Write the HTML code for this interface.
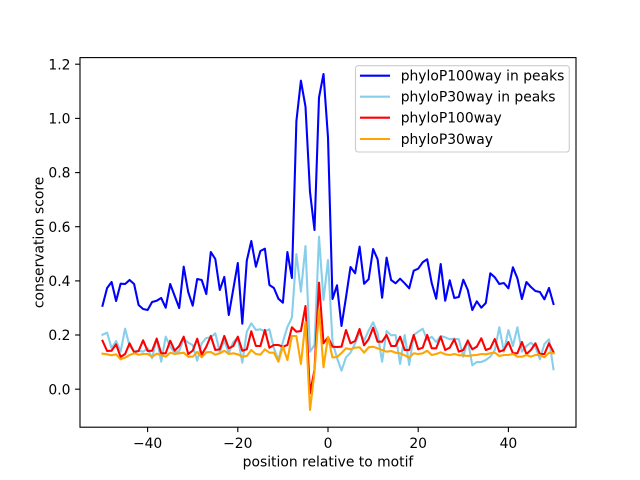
<!DOCTYPE html>
<html><head><meta charset="utf-8"><style>
html,body{margin:0;padding:0;background:#fff;}
svg{display:block;}
text{font-family:"DejaVu Sans","Liberation Sans",sans-serif;fill:#000;}
</style></head><body>
<svg width="640" height="480" viewBox="0 0 640 480" xmlns="http://www.w3.org/2000/svg">
<defs><clipPath id="c"><rect x="80" y="57.6" width="496" height="369.6"/></clipPath></defs>
<rect width="640" height="480" fill="#fff"/>
<g clip-path="url(#c)" fill="none" stroke-width="2.08" stroke-linejoin="round" stroke-linecap="square">
<polyline stroke="#0000ff" points="102.5,305.7 107.1,288 111.6,282 116.1,301 120.6,283.7 125.1,284 129.6,280 134.1,284 138.6,305 143.1,309 147.6,310 152.1,302 156.7,300.7 161.2,298 165.7,307.7 170.2,284 174.7,296 179.2,308 183.7,266.7 188.2,292 192.7,305.7 197.2,279 201.7,280 206.3,294 210.8,252 215.3,259 219.8,290 224.3,277 228.8,315 233.3,289 237.8,263 242.3,323.7 246.8,260.7 251.3,241 255.9,266.7 260.4,251 264.9,248.7 269.4,285 273.9,288 278.4,298.7 282.9,302.7 287.4,252 291.9,278 296.4,121 300.9,80.7 305.5,106.7 310,192 314.5,230 319,97.5 323.5,74 328,137.5 332.5,299 337,285.3 341.5,326 346,297.3 350.5,267 355.1,273.3 359.6,246.7 364.1,283.7 368.6,279.3 373.1,249 377.6,259.3 382.1,297.7 386.6,257.7 391.1,280 395.6,283.3 400.1,278.7 404.7,283.3 409.2,288.3 413.7,270.7 418.2,268.7 422.7,262.3 427.2,259.3 431.7,283 436.2,298.7 440.7,264 445.2,300.7 449.7,280.3 454.3,298 458.8,297 463.3,279.7 467.8,290 472.3,310 476.8,301.3 481.3,307.7 485.8,303 490.3,273.3 494.8,277.3 499.3,284 503.9,283 508.4,288.3 512.9,267.3 517.4,278.3 521.9,299 526.4,282 530.9,287 535.4,291 539.9,292 544.4,299.3 549,288 553.5,304"/>
<polyline stroke="#87ceeb" points="102.5,334.7 107.1,332.7 111.6,348.3 116.1,341 120.6,351.7 125.1,328.7 129.6,346 134.1,351 138.6,350.7 143.1,351.7 147.6,348.3 152.1,358.3 156.7,338.3 161.2,361.7 165.7,336.7 170.2,346.7 174.7,352.7 179.2,351 183.7,338.7 188.2,342.7 192.7,345 197.2,360.7 201.7,343.3 206.3,338 210.8,337.3 215.3,333.3 219.8,351.7 224.3,340.7 228.8,353.3 233.3,342 237.8,337.7 242.3,362.7 246.8,331.7 251.3,323.3 255.9,330 260.4,329.3 264.9,331.3 269.4,329.3 273.9,348.3 278.4,360 282.9,341.7 287.4,327 291.9,317.7 296.4,254 300.9,291.7 305.5,246 310,351.7 314.5,345 319,236.7 323.5,300 328,260 332.5,342 337,358 341.5,370.7 346,357.3 350.5,352.7 355.1,343.3 359.6,332.7 364.1,340.7 368.6,330.7 373.1,322.3 377.6,333.3 382.1,361.7 386.6,331 391.1,335.3 395.6,335 400.1,364 404.7,335 409.2,365 413.7,335 418.2,331.7 422.7,328.7 427.2,340 431.7,336.7 436.2,342 440.7,336 445.2,337.3 449.7,339.3 454.3,338.7 458.8,339.3 463.3,356.7 467.8,340 472.3,365.3 476.8,362 481.3,362 485.8,360 490.3,356.7 494.8,350 499.3,327.3 503.9,351.7 508.4,330 512.9,346 517.4,327.3 521.9,351.7 526.4,346 530.9,342.7 535.4,346.7 539.9,359.3 544.4,344 549,339.3 553.5,369.3"/>
<polyline stroke="#ff0000" points="102.5,340.7 107.1,351 111.6,350.7 116.1,344.3 120.6,357 125.1,354 129.6,343.3 134.1,352.3 138.6,351 143.1,340.3 147.6,351 152.1,350.7 156.7,338.7 161.2,353.3 165.7,353.3 170.2,340.7 174.7,350.7 179.2,346 183.7,336.7 188.2,354 192.7,350.7 197.2,338.7 201.7,354.7 206.3,346.7 210.8,336 215.3,350 219.8,349.3 224.3,336 228.8,348.3 233.3,346 237.8,336.7 242.3,350.7 246.8,349.3 251.3,331.3 255.9,346 260.4,346 264.9,330 269.4,347.7 273.9,345 278.4,345 282.9,346.7 287.4,345 291.9,327.3 296.4,331.7 300.9,331 305.5,306 310,393.3 314.5,370 319,282.7 323.5,343.3 328,337.3 332.5,346.7 337,347 341.5,346.7 346,330 350.5,343.3 355.1,341 359.6,329 364.1,345.3 368.6,339.3 373.1,327.7 377.6,341.7 382.1,341.7 386.6,335 391.1,346 395.6,346 400.1,336.7 404.7,350 409.2,350 413.7,335 418.2,349.3 422.7,347.7 427.2,335 431.7,348.3 436.2,348.3 440.7,336.7 445.2,350 449.7,347.7 454.3,339.3 458.8,351.7 463.3,350 467.8,340.7 472.3,349.3 476.8,346.7 481.3,338.3 485.8,350 490.3,348.3 494.8,339 499.3,351.7 503.9,350 508.4,342 512.9,353.3 517.4,353.3 521.9,342 526.4,354 530.9,350 535.4,343.3 539.9,354 544.4,354 549,343.3 553.5,352"/>
<polyline stroke="#ffa500" points="102.5,353.7 107.1,354.3 111.6,355.3 116.1,354.3 120.6,359.3 125.1,357.7 129.6,355 134.1,353.3 138.6,354.7 143.1,354 147.6,354 152.1,356.7 156.7,353.7 161.2,355 165.7,356.7 170.2,352.7 174.7,354 179.2,353.3 183.7,352.7 188.2,356.7 192.7,356.7 197.2,352 201.7,357.3 206.3,352.3 210.8,352 215.3,354.7 219.8,353.3 224.3,350.7 228.8,354 233.3,353.3 237.8,354.3 242.3,356.7 246.8,356 251.3,350 255.9,354 260.4,354.7 264.9,349.3 269.4,352.7 273.9,352.7 278.4,361.7 282.9,346.5 287.4,360 291.9,336 296.4,336 300.9,364 305.5,322 310,410 314.5,372 319,309.3 323.5,367.3 328,336.7 332.5,357.5 337,357 341.5,353 346,348.3 350.5,349.3 355.1,347.7 359.6,347.3 364.1,352.7 368.6,347.3 373.1,346.7 377.6,348.3 382.1,350 386.6,351.7 391.1,351 395.6,352.7 400.1,353.3 404.7,355.3 409.2,357.7 413.7,353.3 418.2,354 422.7,353.3 427.2,350.7 431.7,355 436.2,354 440.7,352.3 445.2,354.3 449.7,355 454.3,354 458.8,355.3 463.3,355.3 467.8,356 472.3,355.3 476.8,355 481.3,354 485.8,354.3 490.3,353.3 494.8,352.7 499.3,356 503.9,355 508.4,355 512.9,354 517.4,356.7 521.9,356.7 526.4,355 530.9,356.7 535.4,355 539.9,355 544.4,357.3 549,352.7 553.5,353.3"/>
</g>
<rect x="80" y="57.6" width="496" height="369.6" fill="none" stroke="#000" stroke-width="1.11"/>
<g stroke="#000" stroke-width="1.11">
<line x1="147.6" y1="427.2" x2="147.6" y2="432.1"/>
<line x1="237.8" y1="427.2" x2="237.8" y2="432.1"/>
<line x1="328" y1="427.2" x2="328" y2="432.1"/>
<line x1="418.2" y1="427.2" x2="418.2" y2="432.1"/>
<line x1="508.4" y1="427.2" x2="508.4" y2="432.1"/>
<line x1="75.1" y1="389.2" x2="80" y2="389.2"/>
<line x1="75.1" y1="335" x2="80" y2="335"/>
<line x1="75.1" y1="280.9" x2="80" y2="280.9"/>
<line x1="75.1" y1="226.7" x2="80" y2="226.7"/>
<line x1="75.1" y1="172.6" x2="80" y2="172.6"/>
<line x1="75.1" y1="118.4" x2="80" y2="118.4"/>
<line x1="75.1" y1="64.2" x2="80" y2="64.2"/>
</g>
<g font-size="13.89" text-anchor="middle">
<text x="147.6" y="448">−40</text>
<text x="237.8" y="448">−20</text>
<text x="328" y="448">0</text>
<text x="418.2" y="448">20</text>
<text x="508.4" y="448">40</text>
</g>
<g font-size="13.89" text-anchor="end">
<text x="70.5" y="394.3">0.0</text>
<text x="70.5" y="340.1">0.2</text>
<text x="70.5" y="286">0.4</text>
<text x="70.5" y="231.8">0.6</text>
<text x="70.5" y="177.7">0.8</text>
<text x="70.5" y="123.5">1.0</text>
<text x="70.5" y="69.3">1.2</text>
</g>
<text x="328" y="466.5" font-size="13.89" text-anchor="middle">position relative to motif</text>
<text transform="translate(43.3,242.4) rotate(-90)" font-size="13.89" text-anchor="middle">conservation score</text>
<rect x="355.5" y="65.7" width="213.8" height="86.3" rx="2.8" ry="2.8" fill="#fff" fill-opacity="0.8" stroke="#cccccc" stroke-width="1.11"/>
<g stroke-width="2.08" stroke-linecap="square">
<line x1="361" y1="75.7" x2="389" y2="75.7" stroke="#0000ff"/>
<line x1="361" y1="96.7" x2="389" y2="96.7" stroke="#87ceeb"/>
<line x1="361" y1="117.7" x2="389" y2="117.7" stroke="#ff0000"/>
<line x1="361" y1="139" x2="389" y2="139" stroke="#ffa500"/>
</g>
<g font-size="13.89">
<text x="400.7" y="80.7">phyloP100way in peaks</text>
<text x="400.7" y="101.7">phyloP30way in peaks</text>
<text x="400.7" y="122.7">phyloP100way</text>
<text x="400.7" y="144">phyloP30way</text>
</g>
</svg>
</body></html>
